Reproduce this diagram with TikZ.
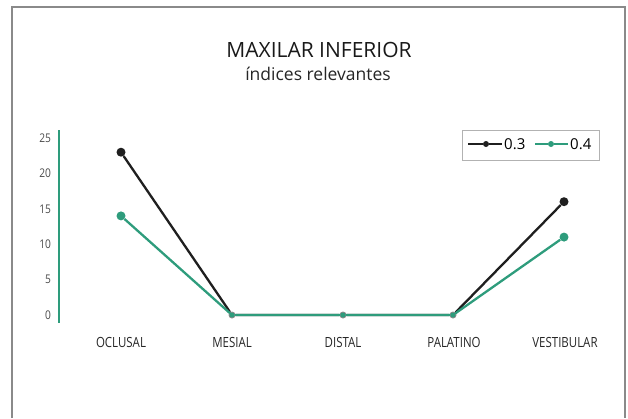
\documentclass[tikz,border=0pt]{standalone}
\usepackage{fontspec}
\setmainfont{Open Sans}
\usepackage{xcolor}
\usetikzlibrary{positioning}
\definecolor{verde}{HTML}{2E9C7C}
\definecolor{borde}{HTML}{8A8A8A}
\tikzset{dotb/.style={circle,fill=black!88,inner sep=0pt,minimum size=9pt},
  dotg/.style={circle,fill=verde,inner sep=0pt,minimum size=9pt},
  dotz/.style={circle,fill=black!45,inner sep=0pt,minimum size=7pt},
  dotzg/.style={circle,fill=verde,inner sep=0pt,minimum size=5pt},
  ldot/.style={circle,inner sep=0pt,minimum size=6pt},
  serb/.style={line width=2.3pt,black!88},
  serg/.style={line width=2.3pt,verde},
  ylab/.style={anchor=east,text=black!70,font=\fontsize{12}{14}\selectfont,xscale=0.85},
  cat/.style={text=black!85,font=\fontsize{14}{16}\selectfont,xscale=0.82}}

\begin{document}
\begin{tikzpicture}[x=1pt,y=-1pt]
    \useasboundingbox (0,0) rectangle (628,418);
    \draw [borde,line width=1.5pt] (12,418) -- (12,7) -- (625,7) -- (625,418);

    \node[anchor=base,font=\fontsize{21}{24}\selectfont,text=black!90] (title) at (319,57) {MAXILAR INFERIOR};
    \node[anchor=base,font=\fontsize{17.5}{20}\selectfont,text=black!85] (sub) at (318,80) {índices relevantes};

    % eje y
    \coordinate (ytop) at (59,130);
    \coordinate (ybot) at (59,323);
    \draw [verde,line width=1.3pt] (ytop) -- (ybot);
    \node[ylab] (y0) at (54,315) {0};
    \node[ylab] (y5) at (54,279.6) {5};
    \node[ylab] (y10) at (54,244.2) {10};
    \node[ylab] (y15) at (54,208.8) {15};
    \node[ylab] (y20) at (54,173.4) {20};
    \node[ylab] (y25) at (54,138) {25};

    \node[cat] (ocl) at (121,342) {OCLUSAL};
    \node[cat] (mes) at (232,342) {MESIAL};
    \node[cat] (dis) at (343,342) {DISTAL};
    \node[cat] (pal) at (454,342) {PALATINO};
    \node[cat] (ves) at (565,342) {VESTIBULAR};

    % serie 0.3
    \node[dotb] (o3) at (121,152.2) {};
    \node[dotz] (m3) at (232,315) {};
    \node[dotz] (d3) at (343,315) {};
    \node[dotz] (p3) at (453,315) {};
    \node[dotb] (v3) at (564,201.7) {};
    \draw [serb] (o3) -- (m3) -- (d3) -- (p3) -- (v3);

    % serie 0.4
    \node[dotg] (o4) at (121,215.9) {};
    \node[dotzg] (m4) at (232,315) {};
    \node[dotzg] (d4) at (343,315) {};
    \node[dotzg] (p4) at (453,315) {};
    \node[dotg] (v4) at (564,237.1) {};
    \draw [serg] (o4) -- (m4) -- (d4) -- (p4) -- (v4);

    % leyenda
    \node[draw=black!30,line width=0.8pt,minimum width=137pt,minimum height=30pt,inner sep=0pt] (leg) at (531,145) {};
    \coordinate (la3) at (468,144);
    \node[ldot,fill=black!88] (ld3) at (486,144) {};
    \coordinate (lb3) at (502,144);
    \draw [serb] (la3) -- (ld3) -- (lb3);
    \node[anchor=west,inner sep=0pt,font=\fontsize{15}{17}\selectfont] (lt3) at (504,144) {0.3};
    \coordinate (la4) at (535,144);
    \node[ldot,fill=verde] (ld4) at (551,144) {};
    \coordinate (lb4) at (568,144);
    \draw [serg] (la4) -- (ld4) -- (lb4);
    \node[anchor=west,inner sep=0pt,font=\fontsize{15}{17}\selectfont] (lt4) at (570,144) {0.4};
\end{tikzpicture}
\end{document}
